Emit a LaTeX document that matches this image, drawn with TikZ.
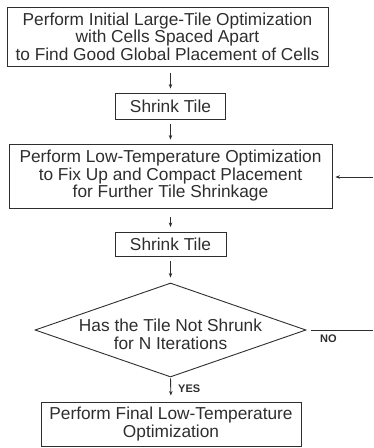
\documentclass[tikz,border=0pt]{standalone}
\usepackage{fontspec}
\setmainfont{Liberation Sans}
\usetikzlibrary{arrows.meta,shapes.geometric}
\definecolor{ink}{gray}{0.18}
\begin{document}
\begin{tikzpicture}[x=1pt,y=-1pt,
  every node/.style={text=ink,font=\fontsize{17.3}{17.5}\selectfont},
  boxnode/.style={draw=ink,line width=0.9pt,inner sep=0pt,align=center},
  arr/.style={draw=ink,line width=0.9pt,-{Stealth[length=4.5pt,width=3.5pt]}},
  ln/.style={draw=ink,line width=0.9pt},
  lbl/.style={font=\bfseries\fontsize{11}{11}\selectfont,inner sep=0pt,anchor=west}]
\useasboundingbox (0,0) rectangle (373,448);
\node[boxnode,minimum width=321pt,minimum height=59pt] (b1) at (167.5,36.5)
  {Perform Initial Large-Tile Optimization\\with Cells Spaced Apart\\to Find Good Global Placement of Cells};
\node[boxnode,minimum width=110pt,minimum height=26pt] (s1) at (170.5,106) {Shrink Tile};
\node[boxnode,minimum width=323pt,minimum height=64pt] (b3) at (170.5,176)
  {Perform Low-Temperature Optimization\\to Fix Up and Compact Placement\\for Further Tile Shrinkage};
\node[boxnode,minimum width=111pt,minimum height=24pt] (s2) at (170.5,244.5) {Shrink Tile};
\node[diamond,draw=ink,line width=0.9pt,minimum width=271pt,minimum height=94pt,inner sep=0pt] (d) at (170.5,330) {};
\node[align=center,inner sep=0pt] (dt) at (170.5,334.5) {Has the Tile Not Shrunk\\for N Iterations};
\node[boxnode,minimum width=260pt,minimum height=44pt] (f) at (171,424)
  {Perform Final Low-Temperature\\Optimization};
\draw[arr,shorten <=7pt,shorten >=4pt] (b1.south -| s1.north) -- (s1.north);
\draw[arr,shorten <=5pt,shorten >=4pt] (s1.south) -- (b3.north);
\draw[arr,shorten <=9pt,shorten >=5pt] (b3.south) -- (s2.north);
\draw[arr,shorten <=4pt,shorten >=5pt] (s2.south) -- (d.north);
\draw[arr,shorten <=1pt,shorten >=6pt] (d.south) -- (f.north);
\coordinate (noend) at (373,330);
\coordinate (fbstart) at (373,177);
\draw[ln,shorten <=5pt] (d.east) -- (noend);
\draw[arr,shorten >=3pt] (fbstart) -- (fbstart -| b3.east);
\node[lbl] (no) at (320,339) {NO};
\node[lbl] (yes) at (178,389) {YES};
\end{tikzpicture}
\end{document}
